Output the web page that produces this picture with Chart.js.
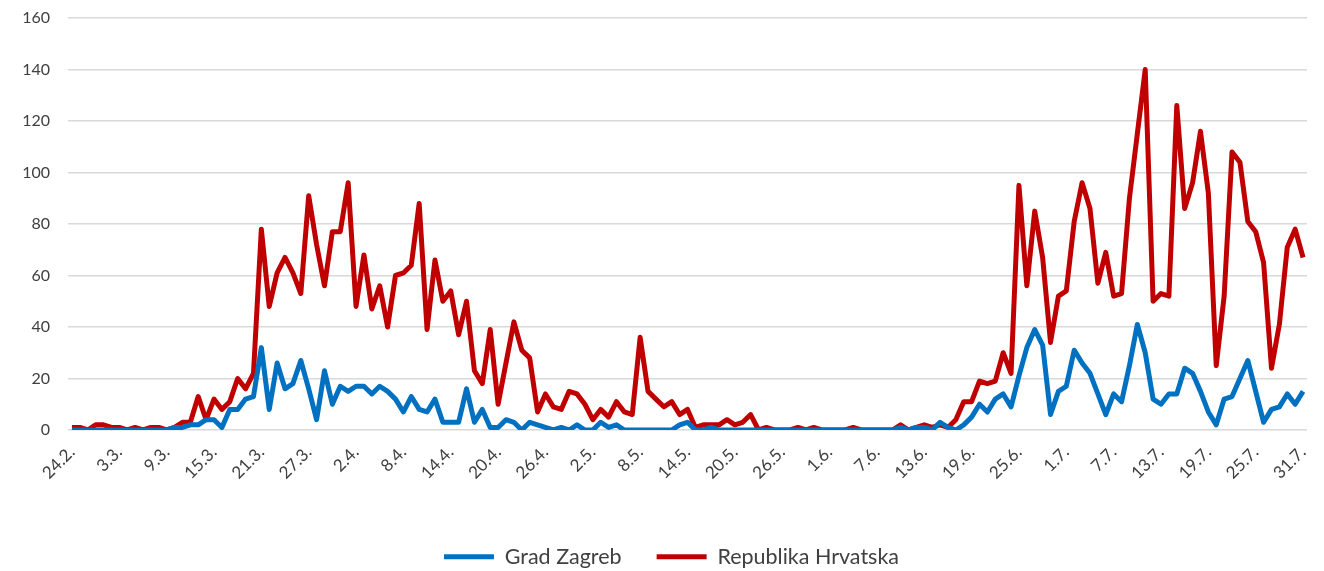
<!DOCTYPE html>
<html>
<head>
<meta charset="utf-8">
<script src="https://cdn.jsdelivr.net/npm/chart.js@4/dist/chart.umd.min.js"></script>
<style>
  html, body { margin: 0; padding: 0; background: #fff; }
  #wrap { width: 1324px; height: 571px; }
</style>
</head>
<body>
<div id="wrap"><canvas id="myChart" width="1324" height="571"></canvas></div>
<script>
// tick labels shown on the x axis (every 6th day)
var tickLabels = ['24.2.', '3.3.', '9.3.', '15.3.', '21.3.', '27.3.', '2.4.', '8.4.', '14.4.',
    '20.4.', '26.4.', '2.5.', '8.5.', '14.5.', '20.5.', '26.5.', '1.6.', '7.6.', '13.6.',
    '19.6.', '25.6.', '1.7.', '7.7.', '13.7.', '19.7.', '25.7.', '31.7.'];

// new cases per day
var zagreb = [
    0, 0, 0, 0, 0, 0, 0, 0, 0, 0,
    0, 0, 0, 1, 1, 2, 2, 4, 4, 1,
    8, 8, 12, 13, 32, 8, 26, 16, 18, 27,
    16, 4, 23, 10, 17, 15, 17, 17, 14, 17,
    15, 12, 7, 13, 8, 7, 12, 3, 3, 3,
    16, 3, 8, 1, 1, 4, 3, 0, 3, 2,
    1, 0, 1, 0, 2, 0, 0, 3, 1, 2,
    0, 0, 0, 0, 0, 0, 0, 2, 3, 0,
    0, 1, 0, 0, 0, 0, 0, 0, 0, 0,
    0, 0, 0, 0, 0, 0, 0, 0, 0, 0,
    0, 0, 0, 0, 0, 1, 0, 1, 1, 0,
    3, 1, 0, 2, 5, 10, 7, 12, 14, 9,
    21, 32, 39, 33, 6, 15, 17, 31, 26, 22,
    14, 6, 14, 11, 25, 41, 30, 12, 10, 14,
    14, 24, 22, 15, 7, 2, 12, 13, 20, 27,
    15, 3, 8, 9, 14, 10, 15
];
var hrvatska = [
    1, 1, 0, 2, 2, 1, 1, 0, 1, 0,
    1, 1, 0, 1, 3, 3, 13, 4, 12, 8,
    11, 20, 16, 22, 78, 48, 61, 67, 61, 53,
    91, 72, 56, 77, 77, 96, 48, 68, 47, 56,
    40, 60, 61, 64, 88, 39, 66, 50, 54, 37,
    50, 23, 18, 39, 10, 26, 42, 31, 28, 7,
    14, 9, 8, 15, 14, 10, 4, 8, 5, 11,
    7, 6, 36, 15, 12, 9, 11, 6, 8, 1,
    2, 2, 2, 4, 2, 3, 6, 0, 1, 0,
    0, 0, 1, 0, 1, 0, 0, 0, 0, 1,
    0, 0, 0, 0, 0, 2, 0, 1, 2, 1,
    2, 1, 4, 11, 11, 19, 18, 19, 30, 22,
    95, 56, 85, 67, 34, 52, 54, 81, 96, 86,
    57, 69, 52, 53, 90, 115, 140, 50, 53, 52,
    126, 86, 96, 116, 92, 25, 52, 108, 104, 81,
    77, 65, 24, 41, 71, 78, 67
];

// one category per data row
var days = [];
var d = new Date(2020, 1, 26);
for (var i = 0; i < hrvatska.length; i++) {
    days.push(d.getDate() + '.' + (d.getMonth() + 1) + '.');
    d.setDate(d.getDate() + 1);
}

// nudge the legend a bit to the right, like the original
var legendShift = {
    id: 'legendShift',
    afterLayout: function (chart) {
        chart.legend.left += 18;
        chart.legend.right += 18;
    }
};

var ctx = document.getElementById('myChart').getContext('2d');
var chart = new Chart(ctx, {
    type: 'line',
    data: {
        labels: days,
        datasets: [
            {
                label: 'Grad Zagreb',
                data: zagreb,
                borderColor: '#0070C0',
                backgroundColor: '#0070C0',
                borderWidth: 5,
                pointRadius: 0,
                tension: 0,
                borderJoinStyle: 'round',
                fill: false,
            },
            {
                label: 'Republika Hrvatska',
                data: hrvatska,
                borderColor: '#C00000',
                backgroundColor: '#C00000',
                borderWidth: 5,
                pointRadius: 0,
                tension: 0,
                borderJoinStyle: 'round',
                fill: false,
            },
        ],
    },
    plugins: [legendShift],
    options: {
        responsive: false,
        animation: false,
        layout: { padding: { top: 18, right: 17, bottom: 0, left: 0 } },
        plugins: {
            tooltip: { enabled: false },
            legend: {
                position: 'bottom',
                maxHeight: 60,
                labels: {
                    usePointStyle: true,
                    pointStyle: 'line',
                    pointStyleWidth: 50,
                    color: '#404040',
                    padding: 35,
                    font: { family: 'Lato', size: 21.5 },
                },
            },
        },
        scales: {
            x: {
                offset: true,
                border: { display: false },
                grid: { display: false, drawTicks: false },
                ticks: {
                    autoSkip: false,
                    maxRotation: 45,
                    minRotation: 45,
                    padding: 12,
                    color: '#404040',
                    font: { family: 'Lato', size: 17 },
                    callback: function (val, i) {
                        return i % 6 === 0 ? tickLabels[i / 6] : '';
                    },
                },
                afterFit: function (scale) {
                    scale.height = 81;
                    scale.paddingRight = 0;
                },
            },
            y: {
                min: 0,
                max: 160,
                border: { display: false },
                grid: { color: '#d9d9d9', lineWidth: 1.5, drawTicks: false },
                ticks: {
                    stepSize: 20,
                    padding: 18,
                    color: '#404040',
                    font: { family: 'Lato', size: 16 },
                },
                afterFit: function (scale) {
                    scale.width = 68;
                    scale.paddingTop = 0;
                },
            },
        },
    },
});
</script>
</body>
</html>
